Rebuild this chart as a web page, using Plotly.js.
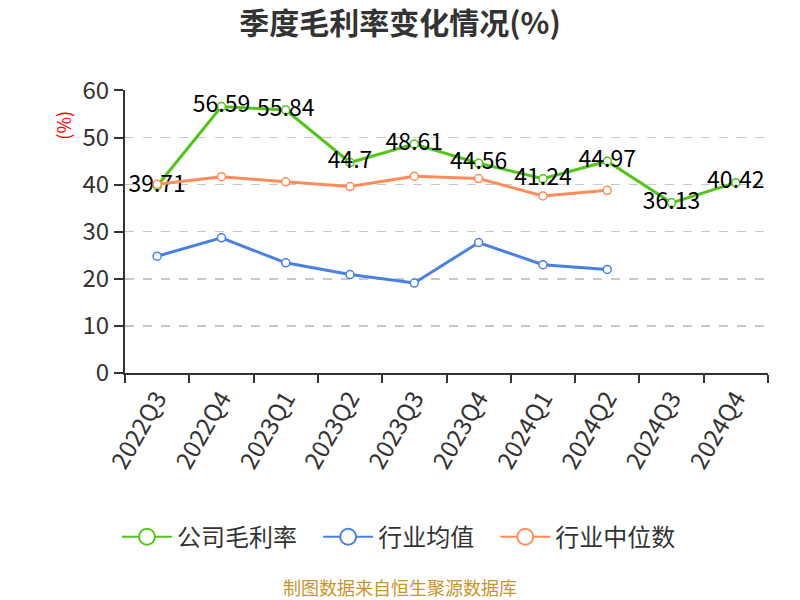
<!DOCTYPE html>
<html>
<head>
<meta charset="utf-8">
<script src="https://cdn.plot.ly/plotly-3.0.1.min.js"></script>
<style>html,body{margin:0;padding:0;background:#fff}#chart{width:800px;height:600px}</style>
</head>
<body>
<div id="chart"></div>
<script>
var categories = ["2022Q3","2022Q4","2023Q1","2023Q2","2023Q3","2023Q4","2024Q1","2024Q2","2024Q3","2024Q4"];
var companyGross = [39.71,56.59,55.84,44.7,48.61,44.56,41.24,44.97,36.13,40.42];
var industryAvg = [24.8,28.7,23.4,20.9,19.1,27.7,23.0,22.0,null,null];
var industryMedian = [40.1,41.7,40.6,39.6,41.8,41.3,37.6,38.8,null,null];
var yTicks = [0,10,20,30,40,50,60];

var FONT = "'Noto Sans CJK SC', 'Noto Sans', sans-serif";

function series(name, y, color, withText) {
  var t = {
    type: "scatter",
    mode: withText ? "lines+markers+text" : "lines+markers",
    name: name,
    x: categories,
    y: y,
    line: {color: color, width: 3},
    marker: {symbol: "circle", size: 8, color: "#ffffff", line: {color: color, width: 1.5}},
    connectgaps: false,
    showlegend: false,
    hoverinfo: "x+y"
  };
  if (withText) {
    t.text = y.map(function(v){ return String(v); });
    t.textposition = "middle center";
    t.textfont = {family: FONT, size: 23, color: "#000000"};
  }
  return t;
}

function legendItem(name, color) {
  return {
    type: "scatter",
    mode: "lines+markers",
    name: name + "\u00a0\u00a0\u00a0",
    x: [null], y: [null],
    line: {color: color, width: 2},
    marker: {symbol: "circle", size: 16, color: "#ffffff", line: {color: color, width: 2}},
    showlegend: true,
    hoverinfo: "skip"
  };
}

var data = [
  series("公司毛利率", companyGross, "#52c41a", true),
  series("行业均值", industryAvg, "#4a80e0", false),
  series("行业中位数", industryMedian, "#ff8c5a", false),
  legendItem("公司毛利率", "#52c41a"),
  legendItem("行业均值", "#4a80e0"),
  legendItem("行业中位数", "#ff8c5a")
];

var layout = {
  width: 800, height: 600,
  margin: {l: 125, r: 32, t: 90, b: 227, autoexpand: false},
  paper_bgcolor: "#ffffff",
  plot_bgcolor: "#ffffff",
  font: {family: FONT, size: 20, color: "#333333"},
  title: {
    text: "<b>季度毛利率变化情况(%)</b>",
    font: {family: FONT, size: 30, color: "#333333"},
    x: 0.5, xref: "container", xanchor: "center",
    y: 1 - 23/600, yref: "container", yanchor: "middle"
  },
  showlegend: true,
  legend: {
    orientation: "h",
    x: (407-125)/643, xanchor: "center",
    y: -0.58, yanchor: "middle",
    font: {family: FONT, size: 24, color: "#333333"},
    traceorder: "normal",
    itemsizing: "trace",
    itemwidth: 50
  },
  xaxis: {
    type: "category",
    categoryorder: "array",
    categoryarray: categories,
    range: [-0.5, 9.5],
    tickson: "boundaries",
    ticks: "outside",
    ticklen: 8,
    tickwidth: 2,
    tickcolor: "#333333",
    showline: true,
    linecolor: "#333333",
    linewidth: 2,
    showgrid: false,
    tickangle: -60,
    tickfont: {family: FONT, size: 24, color: "#333333"},
    zeroline: false,
    automargin: false,
    fixedrange: true
  },
  yaxis: {
    range: [0, 60.1],
    tickvals: yTicks,
    ticktext: yTicks.map(String),
    ticks: "outside",
    ticklen: 9,
    tickwidth: 2,
    tickcolor: "#333333",
    showline: true,
    linecolor: "#333333",
    linewidth: 2,
    showgrid: true,
    gridcolor: "#c8c8c8",
    griddash: "dash",
    gridwidth: 1.5,
    zeroline: false,
    automargin: false,
    tickfont: {family: FONT, size: 24, color: "#333333"},
    fixedrange: true
  },
  annotations: [
    {
      text: "(%)",
      xref: "paper", yref: "paper",
      x: -0.097, y: (373-125)/283,
      xanchor: "center", yanchor: "middle",
      textangle: -90,
      showarrow: false,
      font: {family: FONT, size: 18, color: "#ff0000"}
    },
    {
      text: "制图数据来自恒生聚源数据库",
      xref: "paper", yref: "paper",
      x: (400-125)/643, y: -(587-373)/283,
      xanchor: "center", yanchor: "middle",
      showarrow: false,
      font: {family: FONT, size: 18, color: "#c8952a"}
    }
  ]
};

Plotly.newPlot("chart", data, layout, {displayModeBar: false, staticPlot: true});
</script>
</body>
</html>
